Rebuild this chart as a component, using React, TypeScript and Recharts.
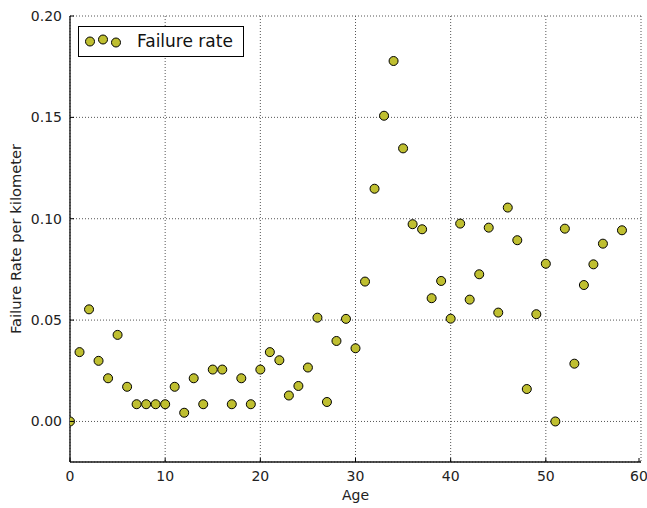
import { CartesianGrid, Legend, Scatter, ScatterChart, XAxis, YAxis } from 'recharts';

const ages = [
  0, 1, 2, 3, 4, 5, 6, 7, 8, 9, 10, 11, 12, 13, 14, 15, 16, 17, 18, 19, 20,
  21, 22, 23, 24, 25, 26, 27, 28, 29, 30, 31, 32, 33, 34, 35, 36, 37, 38, 39, 40,
  41, 42, 43, 44, 45, 46, 47, 48, 49, 50, 51, 52, 53, 54, 55, 56, 58
];
const rates = [
  0.0, 0.0342, 0.0553, 0.0299, 0.0213, 0.0427, 0.0171, 0.0085, 0.0085, 0.0085, 0.0085,
  0.0171, 0.0043, 0.0213, 0.0085, 0.0256, 0.0256, 0.0085, 0.0213, 0.0085, 0.0256,
  0.0342, 0.0302, 0.0128, 0.0175, 0.0266, 0.0512, 0.0096, 0.0397, 0.0506, 0.0361,
  0.069, 0.1148, 0.1508, 0.1778, 0.1347, 0.0973, 0.0948, 0.0608, 0.0693, 0.0507,
  0.0976, 0.0601, 0.0726, 0.0956, 0.0537, 0.1055, 0.0894, 0.016, 0.0529, 0.0778,
  0.0, 0.0951, 0.0285, 0.0673, 0.0775, 0.0877, 0.0943
];
const xTicks = [0, 10, 20, 30, 40, 50, 60];
const yTicks = [0, 0.05, 0.1, 0.15, 0.2];

const data = ages.map((age, i) => ({ age, rate: rates[i] }));

const FONT = '"DejaVu Sans", sans-serif';
const MARKER = '#bfbf30';
const SPINE = { stroke: '#1a1a1a', strokeWidth: 1.4 };

const BottomTick = (props: any) => {
  const { x, y, payload } = props;
  return (
    <g>
      <line x1={x} y1={y} x2={x} y2={y - 4} stroke="#000" />
      <text x={x} y={y + 19} textAnchor="middle" fontSize={14} fontFamily={FONT} fill="#222">
        {payload.value}
      </text>
    </g>
  );
};

const TopTick = (props: any) => {
  const { x, y } = props;
  return <line x1={x} y1={y} x2={x} y2={y + 4} stroke="#000" />;
};

const LeftTick = (props: any) => {
  const { x, y, payload } = props;
  return (
    <g>
      <line x1={x} y1={y} x2={x + 4} y2={y} stroke="#000" />
      <text x={x - 8} y={y + 5} textAnchor="end" fontSize={14} fontFamily={FONT} fill="#222">
        {Number(payload.value).toFixed(2)}
      </text>
    </g>
  );
};

const RightTick = (props: any) => {
  const { x, y } = props;
  return <line x1={x} y1={y} x2={x - 4} y2={y} stroke="#000" />;
};

const Dot = (props: any) => (
  <circle cx={props.cx} cy={props.cy} r={4.5} fill={MARKER} stroke="#000" strokeWidth={1} />
);

const LegendBox = () => (
  <div
    style={{
      width: 166,
      height: 31,
      border: '1px solid #000',
      background: '#fff',
      boxSizing: 'border-box',
    }}
  >
    <svg width={164} height={29}>
      <circle cx={11} cy={14.5} r={4.5} fill={MARKER} stroke="#000" />
      <circle cx={24} cy={12.5} r={4.5} fill={MARKER} stroke="#000" />
      <circle cx={37} cy={15.5} r={4.5} fill={MARKER} stroke="#000" />
      <text x={58} y={19.5} fontSize={17} fontFamily={FONT} fill="#111">
        Failure rate
      </text>
    </svg>
  </div>
);

export default function App() {
  return (
    <div style={{ position: 'absolute', left: 0, top: 0, background: '#fff' }}>
      <ScatterChart width={647} height={508} margin={{ top: 16, right: 6, bottom: 16, left: 10 }}>
        <CartesianGrid stroke="#555" strokeDasharray="1 2" />
        <XAxis
          type="number"
          dataKey="age"
          domain={[0, 60]}
          allowDataOverflow
          ticks={xTicks}
          height={30}
          tickSize={0}
          tickMargin={0}
          axisLine={SPINE}
          tickLine={false}
          tick={<BottomTick />}
          label={{
            content: (p: any) => {
              const vb = p.viewBox || {};
              return (
                <text
                  x={vb.x + vb.width / 2}
                  y={vb.y + 38}
                  textAnchor="middle"
                  fontSize={14}
                  fontFamily={FONT}
                  fill="#222"
                >
                  Age
                </text>
              );
            },
          }}
        />
        <XAxis
          xAxisId="top"
          orientation="top"
          type="number"
          domain={[0, 60]}
          ticks={xTicks}
          height={0}
          tickSize={0}
          axisLine={SPINE}
          tickLine={false}
          tick={<TopTick />}
        />
        <YAxis
          type="number"
          dataKey="rate"
          domain={[-0.02, 0.2]}
          allowDataOverflow
          ticks={yTicks}
          width={60}
          tickSize={0}
          tickMargin={0}
          axisLine={SPINE}
          tickLine={false}
          tick={<LeftTick />}
          label={{
            content: (p: any) => {
              const vb = p.viewBox || {};
              const cx = vb.x + 11;
              const cy = vb.y + vb.height / 2;
              return (
                <text
                  x={cx}
                  y={cy}
                  transform={`rotate(-90 ${cx} ${cy})`}
                  textAnchor="middle"
                  fontSize={14.7}
                  fontFamily={FONT}
                  fill="#222"
                >
                  Failure Rate per kilometer
                </text>
              );
            },
          }}
        />
        <YAxis
          yAxisId="right"
          orientation="right"
          type="number"
          domain={[-0.02, 0.2]}
          ticks={yTicks}
          width={0}
          tickSize={0}
          axisLine={SPINE}
          tickLine={false}
          tick={<RightTick />}
        />
        <Legend
          layout="horizontal"
          verticalAlign="middle"
          align="center"
          content={<LegendBox />}
          wrapperStyle={{ top: 26, left: 78, width: 'auto', height: 'auto' }}
        />
        <Scatter name="Failure rate" data={data} shape={<Dot />} isAnimationActive={false} />
      </ScatterChart>
    </div>
  );
}
